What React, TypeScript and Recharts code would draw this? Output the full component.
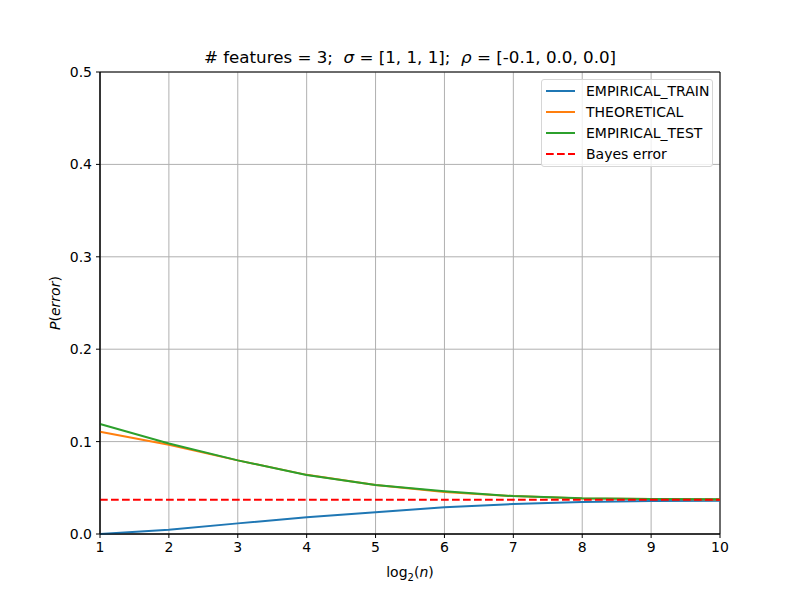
import { CartesianGrid, Line, LineChart, ReferenceArea, XAxis, YAxis } from "recharts";

const LOG2_N = [1, 2, 3, 4, 5, 6, 7, 8, 9, 10];
const EMPIRICAL_TRAIN = [0.0, 0.0047, 0.0115, 0.018, 0.0235, 0.029, 0.0325, 0.0346, 0.0357, 0.036];
const THEORETICAL = [0.1107, 0.0965, 0.0797, 0.064, 0.053, 0.0455, 0.041, 0.0385, 0.0378, 0.0374];
const EMPIRICAL_TEST = [0.119, 0.098, 0.0797, 0.0639, 0.053, 0.0462, 0.041, 0.0386, 0.0379, 0.0375];
const BAYES_ERROR = [0.037, 0.037, 0.037, 0.037, 0.037, 0.037, 0.037, 0.037, 0.037, 0.037];
const Y_TICKS = [0, 0.1, 0.2, 0.3, 0.4, 0.5];

const data = LOG2_N.map((n, i) => ({
  n,
  train: EMPIRICAL_TRAIN[i],
  theo: THEORETICAL[i],
  test: EMPIRICAL_TEST[i],
  bayes: BAYES_ERROR[i],
}));

const FONT = "'DejaVu Sans', sans-serif";

const legendItems = [
  { label: "EMPIRICAL_TRAIN", color: "#1f77b4", dash: undefined },
  { label: "THEORETICAL", color: "#ff7f0e", dash: undefined },
  { label: "EMPIRICAL_TEST", color: "#2ca02c", dash: undefined },
  { label: "Bayes error", color: "#ff0000", dash: "7.7 3.3" },
];

function LegendBox() {
  return (
    <div
      style={{
        position: "absolute",
        left: 541,
        top: 79,
        width: 172,
        height: 88,
        boxSizing: "border-box",
        border: "1px solid #d6d6d6",
        borderRadius: 3,
        background: "rgba(255,255,255,0.8)",
        fontFamily: FONT,
        fontSize: 14,
        color: "#000",
        padding: "1px 0 0 4px",
      }}
    >
      {legendItems.map((it) => (
        <div key={it.label} style={{ display: "flex", alignItems: "center", height: 20.8 }}>
          <svg width={30} height={6} style={{ marginRight: 10 }}>
            <line x1={0} y1={3} x2={29} y2={3} stroke={it.color} strokeWidth={2} strokeDasharray={it.dash} />
          </svg>
          <span>{it.label}</span>
        </div>
      ))}
    </div>
  );
}

function XLabel(props: any) {
  const { viewBox } = props;
  const cx = viewBox.x + viewBox.width / 2;
  return (
    <text x={cx} y={577} textAnchor="middle" fontFamily={FONT} fontSize={14} fill="#000">
      <tspan>log</tspan>
      <tspan fontSize={10} dy={4}>2</tspan>
      <tspan dy={-4}>(</tspan>
      <tspan fontStyle="italic">n</tspan>
      <tspan>)</tspan>
    </text>
  );
}

function YLabel(props: any) {
  const { viewBox } = props;
  const cy = viewBox.y + viewBox.height / 2;
  return (
    <text
      x={60}
      y={cy}
      transform={`rotate(-90, 60, ${cy})`}
      textAnchor="middle"
      fontFamily={FONT}
      fontSize={14}
      fill="#000"
    >
      <tspan fontStyle="italic">P</tspan>
      <tspan>(</tspan>
      <tspan fontStyle="italic">error</tspan>
      <tspan>)</tspan>
    </text>
  );
}

export default function App() {
  return (
    <div style={{ position: "absolute", left: 0, top: 0, width: 800, height: 600, background: "#fff" }}>
      <div
        style={{
          position: "absolute",
          left: 100,
          width: 620,
          top: 47,
          textAlign: "center",
          fontFamily: FONT,
          fontSize: 16.7,
          color: "#000",
          whiteSpace: "pre",
        }}
      >
        {"# features = 3;  "}
        <i>σ</i>
        {" = [1, 1, 1];  "}
        <i>ρ</i>
        {" = [-0.1, 0.0, 0.0]"}
      </div>
      <LineChart
        width={800}
        height={600}
        data={data}
        margin={{ top: 72, right: 80, bottom: 0, left: 40 }}
        style={{ position: "absolute", left: 0, top: 0 }}
      >
        <CartesianGrid stroke="#b0b0b0" strokeWidth={1} vertical horizontal />
        <XAxis
          dataKey="n"
          type="number"
          domain={[1, 10]}
          ticks={LOG2_N}
          height={66}
          stroke="#000"
          tickSize={4}
          tick={{ fontFamily: FONT, fontSize: 14, fill: "#000" }}
          tickMargin={4}
          interval={0}
          label={<XLabel />}
        />
        <YAxis
          type="number"
          domain={[0, 0.5]}
          ticks={Y_TICKS}
          width={60}
          stroke="#000"
          tickSize={4}
          tickMargin={4}
          tick={{ fontFamily: FONT, fontSize: 14, fill: "#000" }}
          tickFormatter={(v: number) => v.toFixed(1)}
          interval={0}
          label={<YLabel />}
        />
        <Line dataKey="train" stroke="#1f77b4" strokeWidth={2} dot={false} isAnimationActive={false} />
        <Line dataKey="theo" stroke="#ff7f0e" strokeWidth={2} dot={false} isAnimationActive={false} />
        <Line dataKey="test" stroke="#2ca02c" strokeWidth={2} dot={false} isAnimationActive={false} />
        <Line
          dataKey="bayes"
          stroke="#ff0000"
          strokeWidth={2}
          strokeDasharray="7.7 3.3"
          dot={false}
          isAnimationActive={false}
        />
        <ReferenceArea x1={1} x2={10} y1={0} y2={0.5} fill="none" stroke="#000" strokeWidth={1} />
      </LineChart>
      <LegendBox />
    </div>
  );
}
